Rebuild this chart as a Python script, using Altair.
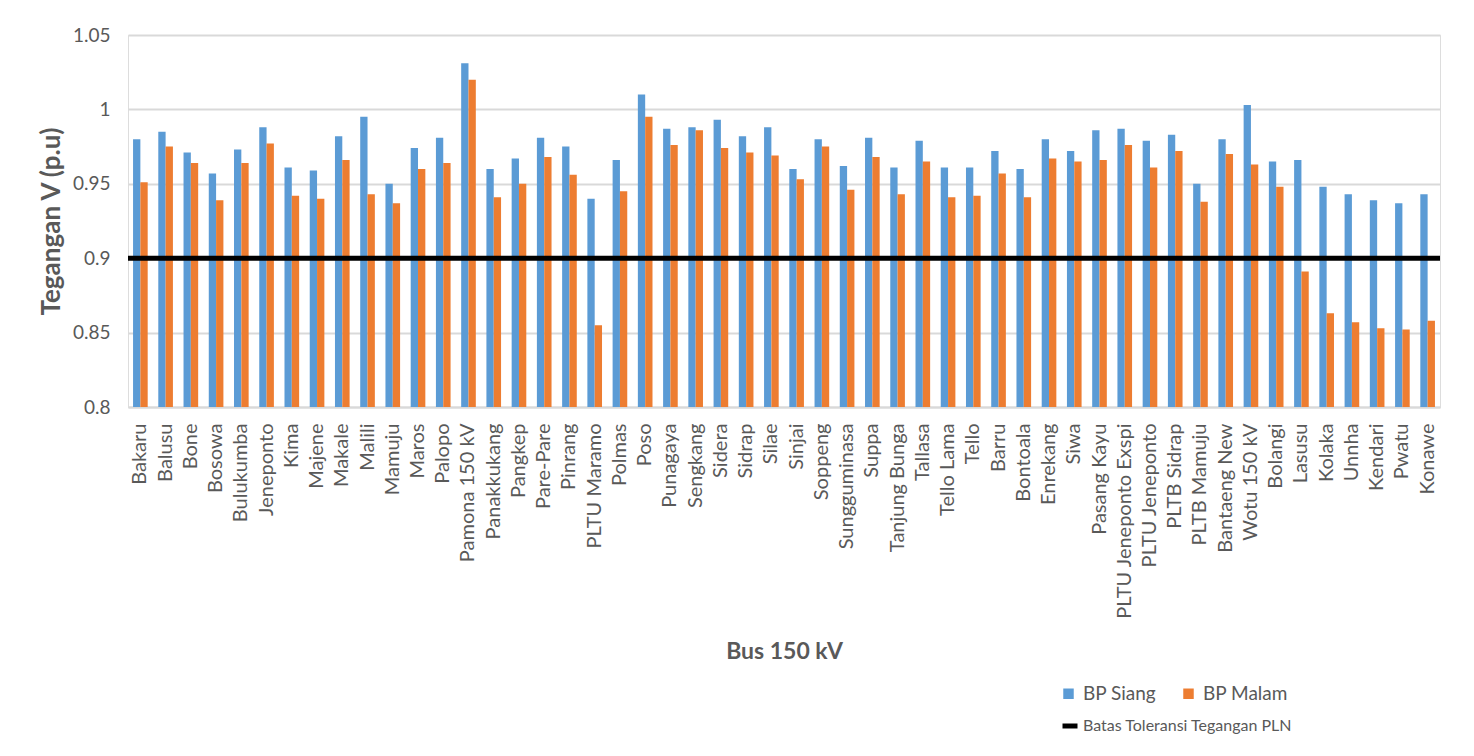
import altair as alt
import pandas as pd

# 150 kV buses, in display order
buses = [
    "Bakaru", "Balusu", "Bone", "Bosowa", "Bulukumba", "Jeneponto", "Kima", "Majene",
    "Makale", "Malili", "Mamuju", "Maros", "Palopo", "Pamona 150 kV", "Panakkukang",
    "Pangkep", "Pare-Pare", "Pinrang", "PLTU Maramo", "Polmas", "Poso", "Punagaya",
    "Sengkang", "Sidera", "Sidrap", "Silae", "Sinjai", "Soppeng", "Sungguminasa", "Suppa",
    "Tanjung Bunga", "Tallasa", "Tello Lama", "Tello", "Barru", "Bontoala", "Enrekang",
    "Siwa", "Pasang Kayu", "PLTU Jeneponto Exspi", "PLTU Jeneponto", "PLTB Sidrap",
    "PLTB Mamuju", "Bantaeng New", "Wotu 150 kV", "Bolangi", "Lasusu", "Kolaka", "Unnha",
    "Kendari", "Pwatu", "Konawe",
]

# Bus voltage (p.u.) at daytime peak load
bp_siang = [
    0.980, 0.985, 0.971, 0.957, 0.973, 0.988, 0.961, 0.959, 0.982, 0.995, 0.950, 0.974,
    0.981, 1.031, 0.960, 0.967, 0.981, 0.975, 0.940, 0.966, 1.010, 0.987, 0.988, 0.993,
    0.982, 0.988, 0.960, 0.980, 0.962, 0.981, 0.961, 0.979, 0.961, 0.961, 0.972, 0.960,
    0.980, 0.972, 0.986, 0.987, 0.979, 0.983, 0.950, 0.980, 1.003, 0.965, 0.966, 0.948,
    0.943, 0.939, 0.937, 0.943,
]

# Bus voltage (p.u.) at night peak load
bp_malam = [
    0.951, 0.975, 0.964, 0.939, 0.964, 0.977, 0.942, 0.940, 0.966, 0.943, 0.937, 0.960,
    0.964, 1.020, 0.941, 0.950, 0.968, 0.956, 0.855, 0.945, 0.995, 0.976, 0.986, 0.974,
    0.971, 0.969, 0.953, 0.975, 0.946, 0.968, 0.943, 0.965, 0.941, 0.942, 0.957, 0.941,
    0.967, 0.965, 0.966, 0.976, 0.961, 0.972, 0.938, 0.970, 0.963, 0.948, 0.891, 0.863,
    0.857, 0.853, 0.852, 0.858,
]

series_names = ["BP Siang", "BP Malam"]
series_colors = ["#5B9BD5", "#ED7D31"]

# PLN voltage tolerance limit
tolerance = 0.9
tolerance_label = "Batas Toleransi Tegangan PLN"

y_ticks = [0.8, 0.85, 0.9, 0.95, 1.0, 1.05]

bars_df = pd.DataFrame(
    {
        "Bus": buses * 2,
        "Beban": [series_names[0]] * len(buses) + [series_names[1]] * len(buses),
        "V": bp_siang + bp_malam,
    }
)
limit_df = pd.DataFrame({"V": [tolerance], "Keterangan": [tolerance_label]})

font = "Lato"
text_grey = "#595959"

y_scale = alt.Scale(domain=[0.8, 1.05], zero=False, nice=False)

bars = (
    alt.Chart(bars_df)
    .mark_bar(clip=True)
    .encode(
        x=alt.X(
            "Bus:N",
            sort=buses,
            scale=alt.Scale(paddingInner=0.42, paddingOuter=0.2),
            axis=alt.Axis(
                title="Bus 150 kV",
                labelAngle=270,
                labelPadding=16,
                labelFontSize=20,
                labelColor=text_grey,
                labelOverlap=False,
                labelLimit=0,
                ticks=False,
                domainColor="#d9d9d9",
                domainWidth=2,
                titleFontSize=23,
                titleFontWeight="bold",
                titleColor=text_grey,
                titlePadding=33,
            ),
        ),
        xOffset=alt.XOffset(
            "Beban:N", sort=series_names, scale=alt.Scale(paddingInner=0, paddingOuter=0)
        ),
        y=alt.Y(
            "V:Q",
            scale=y_scale,
            axis=alt.Axis(
                title="Tegangan V (p.u)",
                values=y_ticks,
                format="~g",
                labelFontSize=19,
                labelColor=text_grey,
                labelPadding=18,
                ticks=False,
                domain=False,
                gridColor="#d9d9d9",
                gridWidth=2,
                titleFontSize=26,
                titleFontWeight="bold",
                titleColor=text_grey,
                titlePadding=8,
            ),
        ),
        color=alt.Color(
            "Beban:N",
            sort=series_names,
            scale=alt.Scale(domain=series_names, range=series_colors),
            legend=alt.Legend(
                title=None,
                orient="none",
                direction="horizontal",
                legendX=931,
                legendY=649,
                symbolType="square",
                symbolSize=110,
                symbolStrokeWidth=0,
                labelFontSize=19,
                labelColor=text_grey,
                labelLimit=0,
                columnPadding=22,
                labelOffset=5,
            ),
        ),
    )
)

limit = (
    alt.Chart(limit_df)
    .mark_rule(strokeWidth=5)
    .encode(
        y=alt.Y("V:Q", scale=y_scale),
        stroke=alt.Stroke(
            "Keterangan:N",
            scale=alt.Scale(domain=[tolerance_label], range=["#000000"]),
            legend=alt.Legend(
                title=None,
                orient="none",
                legendX=932,
                legendY=681,
                symbolType="stroke",
                symbolSize=225,
                symbolStrokeWidth=5,
                labelFontSize=16,
                labelColor=text_grey,
                labelLimit=0,
                labelOffset=3,
            ),
        ),
    )
)

chart = (
    alt.layer(bars, limit)
    .properties(
        width=1312,
        height=372,
        autosize=alt.AutoSizeParams(type="none"),
        padding={"left": 128, "top": 35, "right": 34, "bottom": 349},
        background="white",
    )
    .configure_view(stroke=None)
    .configure(font=font)
)

chart.save("out.html", embed_options={"renderer": "svg", "actions": False})
